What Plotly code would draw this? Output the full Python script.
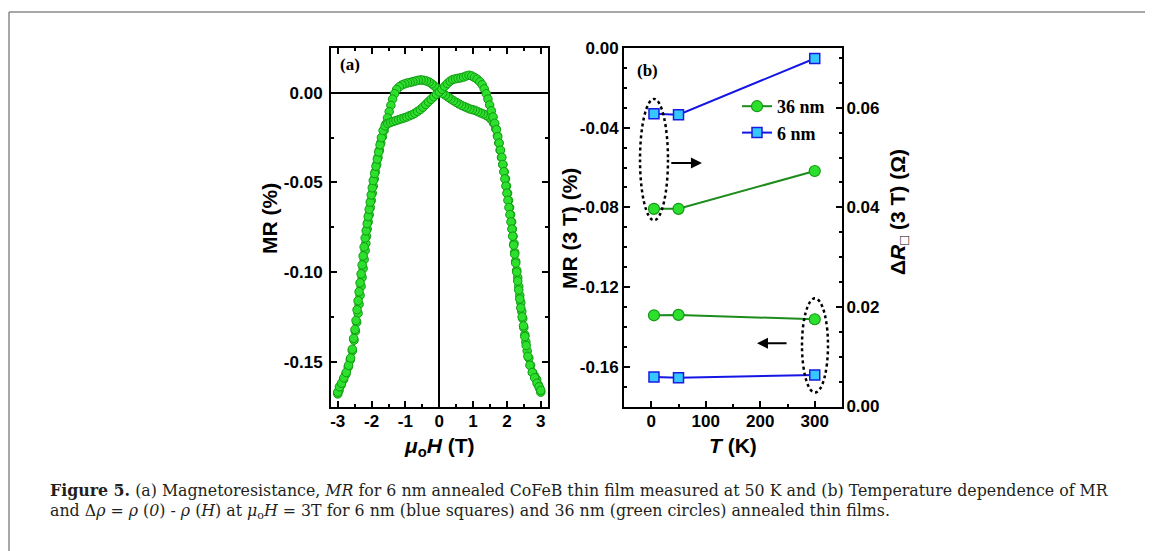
import numpy as np
import plotly.graph_objects as go

W, H = 1153, 551

# ---------------- data: panel (a) MR loop ----------------
# branch sweeping +3 T -> -3 T
h_down = [3.00, 2.97, 2.93, 2.88, 2.82, 2.76, 2.70, 2.65, 2.60, 2.56, 2.53, 2.50, 2.47, 2.44, 2.41,
          2.38, 2.35, 2.32, 2.29, 2.26, 2.23, 2.21, 2.18, 2.16, 2.14, 2.11, 2.08, 2.05, 2.02, 1.99,
          1.96, 1.92, 1.88, 1.84, 1.80, 1.76, 1.72, 1.67, 1.61, 1.54, 1.46, 1.38, 1.30, 1.22, 1.14,
          1.06, 0.98, 0.90, 0.82, 0.74, 0.66, 0.58, 0.50, 0.42, 0.34, 0.26, 0.18, 0.10, 0.02, -0.06,
          -0.14, -0.22, -0.30, -0.38, -0.46, -0.54, -0.62, -0.70, -0.78, -0.86, -0.94, -1.02, -1.10,
          -1.18, -1.26, -1.32, -1.38, -1.43, -1.48, -1.53, -1.58, -1.63, -1.68, -1.73, -1.77, -1.81,
          -1.85, -1.89, -1.92, -1.95, -1.98, -2.01, -2.04, -2.07, -2.10, -2.13, -2.15, -2.17, -2.19,
          -2.22, -2.25, -2.28, -2.31, -2.34, -2.37, -2.40, -2.44, -2.48, -2.52, -2.57, -2.63, -2.69,
          -2.76, -2.83, -2.90, -2.96, -3.00]
mr_down = [-0.167, -0.165, -0.163, -0.160, -0.158, -0.156, -0.152, -0.148, -0.144, -0.139, -0.135,
           -0.131, -0.126, -0.122, -0.117, -0.113, -0.108, -0.103, -0.099, -0.094, -0.089, -0.084,
           -0.080, -0.076, -0.072, -0.068, -0.064, -0.060, -0.056, -0.052, -0.048, -0.044, -0.040,
           -0.036, -0.032, -0.028, -0.024, -0.020, -0.017, -0.015, -0.0135, -0.0125, -0.0118, -0.0112,
           -0.0105, -0.0098, -0.0094, -0.0090, -0.0083, -0.0077, -0.0070, -0.0062, -0.0053, -0.0044,
           -0.0034, -0.0024, -0.0013, -0.0003, 0.0010, 0.0025, 0.0038, 0.0050, 0.0060, 0.0066, 0.0070,
           0.0072, 0.0070, 0.0066, 0.0062, 0.0058, 0.0055, 0.0050, 0.0044, 0.0034, 0.0018, -0.0005,
           -0.0035, -0.0070, -0.0105, -0.0140, -0.0175, -0.0210, -0.0245, -0.028, -0.032, -0.036,
           -0.040, -0.044, -0.048, -0.052, -0.056, -0.060, -0.064, -0.068, -0.072, -0.076, -0.080,
           -0.084, -0.088, -0.093, -0.098, -0.103, -0.108, -0.113, -0.118, -0.123, -0.128, -0.133,
           -0.138, -0.144, -0.149, -0.153, -0.157, -0.160, -0.163, -0.166, -0.168]
# branch sweeping -3 T -> +3 T
h_up = [-3.00, -2.95, -2.89, -2.82, -2.75, -2.68, -2.62, -2.57, -2.53, -2.49, -2.46, -2.43, -2.40,
        -2.37, -2.34, -2.31, -2.28, -2.25, -2.22, -2.19, -2.16, -2.13, -2.10, -2.07, -2.04, -2.01,
        -1.98, -1.95, -1.91, -1.87, -1.83, -1.79, -1.75, -1.71, -1.66, -1.60, -1.52, -1.44, -1.36,
        -1.28, -1.20, -1.12, -1.04, -0.96, -0.88, -0.80, -0.72, -0.64, -0.56, -0.48, -0.40, -0.32,
        -0.24, -0.16, -0.08, 0.00, 0.08, 0.16, 0.24, 0.32, 0.40, 0.48, 0.56, 0.64, 0.72, 0.80, 0.88,
        0.96, 1.04, 1.12, 1.20, 1.27, 1.33, 1.39, 1.44, 1.49, 1.54, 1.59, 1.64, 1.69, 1.73, 1.77,
        1.81, 1.85, 1.88, 1.91, 1.94, 1.97, 2.00, 2.03, 2.06, 2.09, 2.12, 2.15, 2.17, 2.20, 2.23,
        2.26, 2.29, 2.32, 2.35, 2.38, 2.41, 2.45, 2.49, 2.53, 2.57, 2.62, 2.68, 2.75, 2.82, 2.89,
        2.95, 3.00]
mr_up = [-0.167, -0.164, -0.162, -0.159, -0.156, -0.152, -0.148, -0.143, -0.137, -0.132, -0.127,
         -0.121, -0.116, -0.111, -0.106, -0.101, -0.096, -0.091, -0.086, -0.081, -0.077, -0.073,
         -0.069, -0.065, -0.061, -0.057, -0.053, -0.049, -0.045, -0.041, -0.037, -0.033, -0.029,
         -0.025, -0.021, -0.0185, -0.0172, -0.0165, -0.0160, -0.0155, -0.0150, -0.0145, -0.0140,
         -0.0135, -0.0128, -0.0122, -0.0114, -0.0104, -0.0093, -0.0080, -0.0065, -0.0050, -0.0036,
         -0.0022, -0.0008, 0.0005, 0.0020, 0.0036, 0.0052, 0.0065, 0.0074, 0.0078, 0.0081, 0.0084,
         0.0088, 0.0094, 0.0098, 0.0094, 0.0086, 0.0076, 0.0062, 0.0045, 0.0022, -0.0005, -0.0035,
         -0.0068, -0.0100, -0.0135, -0.0170, -0.0205, -0.0245, -0.028, -0.032, -0.036, -0.040,
         -0.044, -0.048, -0.052, -0.056, -0.060, -0.064, -0.068, -0.072, -0.076, -0.080, -0.085,
         -0.090, -0.095, -0.100, -0.105, -0.110, -0.115, -0.120, -0.125, -0.130, -0.136, -0.141,
         -0.147, -0.152, -0.156, -0.159, -0.162, -0.164, -0.166]

# ---------------- data: panel (b) ----------------
T_K = [5, 50, 300]
mr_36nm = [-0.1342, -0.1340, -0.1362]   # left axis, MR (3 T) (%)
mr_6nm = [-0.1652, -0.1656, -0.1642]
dR_36nm = [0.0397, 0.0397, 0.0473]      # right axis, dR (3 T) (Ohm)
dR_6nm = [0.0588, 0.0586, 0.0699]

# tick labels
xa_ticks = [-3, -2, -1, 0, 1, 2, 3]
xa_labels = ["-3", "-2", "-1", "0", "1", "2", "3"]
ya_ticks = [0.0, -0.05, -0.10, -0.15]
ya_labels = ["0.00", "-0.05", "-0.10", "-0.15"]
xb_ticks = [0, 100, 200, 300]
xb_labels = ["0", "100", "200", "300"]
yb_ticks = [0.0, -0.04, -0.08, -0.12, -0.16]
yb_labels = ["0.00", "-0.04", "-0.08", "-0.12", "-0.16"]
yr_ticks = [0.0, 0.02, 0.04, 0.06]
yr_labels = ["0.00", "0.02", "0.04", "0.06"]

# ---------------- styling ----------------
SANS = "Liberation Sans"
SERIF = "Liberation Serif"
GREEN_FILL = "#2ee02e"
GREEN_EDGE = "#129a12"
GREEN_LINE = "#1c8c1c"
BLUE_FILL = "#35c8ff"
BLUE_EDGE = "#1a1ae0"
BLUE_LINE = "#1515e6"

OFF = 8  # page body margin of the html page

fig = go.Figure()

green_marker_a = dict(symbol="circle", size=8.5, color=GREEN_FILL, line=dict(color=GREEN_EDGE, width=1))
fig.add_trace(go.Scatter(x=h_down, y=mr_down, mode="markers", marker=green_marker_a,
                         xaxis="x", yaxis="y", showlegend=False))
fig.add_trace(go.Scatter(x=h_up, y=mr_up, mode="markers", marker=green_marker_a,
                         xaxis="x", yaxis="y", showlegend=False))

circ_b = dict(symbol="circle", size=11, color=GREEN_FILL, line=dict(color=GREEN_EDGE, width=1.2))
sq_b = dict(symbol="square", size=10, color=BLUE_FILL, line=dict(color=BLUE_EDGE, width=1.5))

fig.add_trace(go.Scatter(x=T_K, y=dR_36nm, mode="lines+markers", name="36 nm",
                         line=dict(color=GREEN_LINE, width=2), marker=circ_b,
                         xaxis="x2", yaxis="y3", legendgroup="g"))
fig.add_trace(go.Scatter(x=T_K, y=dR_6nm, mode="lines+markers", name="6 nm",
                         line=dict(color=BLUE_LINE, width=2), marker=sq_b,
                         xaxis="x2", yaxis="y3", legendgroup="g"))
fig.add_trace(go.Scatter(x=T_K, y=mr_36nm, mode="lines+markers", name="36 nm",
                         line=dict(color=GREEN_LINE, width=2), marker=circ_b,
                         xaxis="x2", yaxis="y2", showlegend=False))
fig.add_trace(go.Scatter(x=T_K, y=mr_6nm, mode="lines+markers", name="6 nm",
                         line=dict(color=BLUE_LINE, width=2), marker=sq_b,
                         xaxis="x2", yaxis="y2", showlegend=False))

tickfont = dict(family=SANS, size=17, color="black", weight="bold")


def px_x(p):
    return (p - OFF) / W


def px_y(p):
    return 1 - (p - OFF) / H


def axis_common(**kw):
    d = dict(showgrid=False, showline=True, linecolor="black", linewidth=2,
             ticks="inside", ticklen=6, tickwidth=1.5, tickcolor="black",
             tickfont=tickfont, tickmode="array", zeroline=False, automargin=False)
    d.update(kw)
    return d


def minor(vals):
    return dict(tickmode="array", tickvals=list(vals), ticks="inside", ticklen=3,
                tickwidth=1.5, tickcolor="black")


top_px, bot_px = 48, 406.5
fig.update_layout(
    template="none",
    width=W, height=H, margin=dict(l=0, r=0, t=0, b=0, pad=0, autoexpand=False),
    paper_bgcolor="white", plot_bgcolor="white",
    xaxis=axis_common(domain=[px_x(331), px_x(547.5)], range=[-3.2, 3.2], anchor="y",
                      tickvals=xa_ticks, ticktext=xa_labels, mirror="ticks",
                      minor=minor(np.arange(-3.0, 3.01, 0.5)),
                      zeroline=True, zerolinecolor="black", zerolinewidth=1.8,
                      ticklabelstandoff=-2),
    yaxis=axis_common(domain=[px_y(bot_px), px_y(top_px)], range=[-0.175, 0.025], anchor="x",
                      tickvals=ya_ticks, ticktext=ya_labels, mirror="ticks",
                      minor=minor(np.arange(-0.175, 0.026, 0.025)),
                      zeroline=True, zerolinecolor="black", zerolinewidth=1.8,
                      ticklabelstandoff=3),
    xaxis2=axis_common(domain=[px_x(624), px_x(842)], range=[-50, 350], anchor="y2",
                       tickvals=xb_ticks, ticktext=xb_labels, mirror=True,
                       minor=minor(np.arange(-50, 351, 50)), ticklabelstandoff=-2),
    yaxis2=axis_common(domain=[px_y(bot_px), px_y(top_px)], range=[-0.18, 0.0], anchor="x2",
                       tickvals=yb_ticks, ticktext=yb_labels,
                       minor=minor(np.arange(-0.18, 0.001, 0.01)), ticklabelstandoff=0),
    yaxis3=axis_common(domain=[px_y(bot_px), px_y(top_px)], range=[0.0, 0.072], anchor="x2",
                       overlaying="y2", side="right",
                       tickvals=yr_ticks, ticktext=yr_labels,
                       minor=minor(np.arange(0.0, 0.0721, 0.005)), ticklabelstandoff=-1),
    legend=dict(x=px_x(737), y=px_y(88), xanchor="left", yanchor="top",
                bgcolor="rgba(0,0,0,0)", borderwidth=0, tracegroupgap=0,
                font=dict(family=SERIF, size=18, color="black", weight="bold"),
                itemwidth=30),
)

ann = []
title_font = dict(family=SANS, size=21, color="black", weight="bold")
ann.append(dict(text="MR (%)", xref="paper", yref="paper", x=px_x(269), y=px_y(219),
                textangle=-90, showarrow=False, font=title_font, xanchor="center", yanchor="middle"))
ann.append(dict(text="<i>μ</i><sub>o</sub><i>H</i> (T)", xref="paper", yref="paper",
                x=px_x(439), y=px_y(447), showarrow=False, font=title_font,
                xanchor="center", yanchor="middle"))
ann.append(dict(text="MR (3 T) (%)", xref="paper", yref="paper", x=px_x(569), y=px_y(229),
                textangle=-90, showarrow=False, font=title_font, xanchor="center", yanchor="middle"))
ann.append(dict(text="<i>T</i> (K)", xref="paper", yref="paper", x=px_x(733), y=px_y(445),
                showarrow=False, font=title_font, xanchor="center", yanchor="middle"))
ann.append(dict(text="Δ<i>R</i><sub>□</sub> (3 T) (Ω)", xref="paper", yref="paper",
                x=px_x(899), y=px_y(212), textangle=-90, showarrow=False, font=title_font,
                xanchor="center", yanchor="middle"))
panel_font = dict(family=SERIF, size=17, color="black", weight="bold")
ann.append(dict(text="(a)", xref="paper", yref="paper", x=px_x(350), y=px_y(65),
                showarrow=False, font=panel_font, xanchor="center", yanchor="middle"))
ann.append(dict(text="(b)", xref="paper", yref="paper", x=px_x(647), y=px_y(70),
                showarrow=False, font=panel_font, xanchor="center", yanchor="middle"))
# arrows pointing to the relevant axis
ann.append(dict(x=93, y=-0.0577, ax=34, ay=-0.0577, xref="x2", yref="y2", axref="x2", ayref="y2",
                showarrow=True, arrowhead=2, arrowsize=1.1, arrowwidth=2, arrowcolor="black", text=""))
ann.append(dict(x=194, y=-0.1483, ax=251, ay=-0.1483, xref="x2", yref="y2", axref="x2", ayref="y2",
                showarrow=True, arrowhead=2, arrowsize=1.1, arrowwidth=2, arrowcolor="black", text=""))
# caption
cap_font = dict(family="DejaVu Serif", size=15.8, color="#231f20")
ann.append(dict(text="<b>Figure 5.</b> (a) Magnetoresistance, <i>MR</i> for 6 nm annealed CoFeB thin film "
                     "measured at 50 K and (b) Temperature dependence of MR",
                xref="paper", yref="paper", x=px_x(48), y=px_y(490), xanchor="left", yanchor="middle",
                showarrow=False, font=cap_font))
ann.append(dict(text="and Δ<i>ρ</i> = <i>ρ</i> (<i>0</i>) - <i>ρ</i> (<i>H</i>) at <i>μ</i><sub>o</sub><i>H</i> = 3T "
                     "for 6 nm (blue squares) and 36 nm (green circles) annealed thin films.",
                xref="paper", yref="paper", x=px_x(48), y=px_y(511), xanchor="left", yanchor="middle",
                showarrow=False, font=cap_font))
fig.update_layout(annotations=ann)

shapes = [
    # dotted ellipses
    dict(type="circle", xref="x2", yref="y2", x0=-20.6, x1=30.7, y0=-0.0865, y1=-0.0256,
         line=dict(color="black", width=2.5, dash="dot")),
    dict(type="circle", xref="x2", yref="y2", x0=276.6, x1=324.3, y0=-0.173, y1=-0.1257,
         line=dict(color="black", width=2.5, dash="dot")),
    # page frame
    dict(type="line", xref="paper", yref="paper", x0=px_x(9), x1=1, y0=px_y(12), y1=px_y(12),
         line=dict(color="#8a8a8a", width=1.5)),
    dict(type="line", xref="paper", yref="paper", x0=px_x(9), x1=px_x(9), y0=px_y(12), y1=0,
         line=dict(color="#8a8a8a", width=1.5)),
]
fig.update_layout(shapes=shapes)

fig.write_html("out.html")
